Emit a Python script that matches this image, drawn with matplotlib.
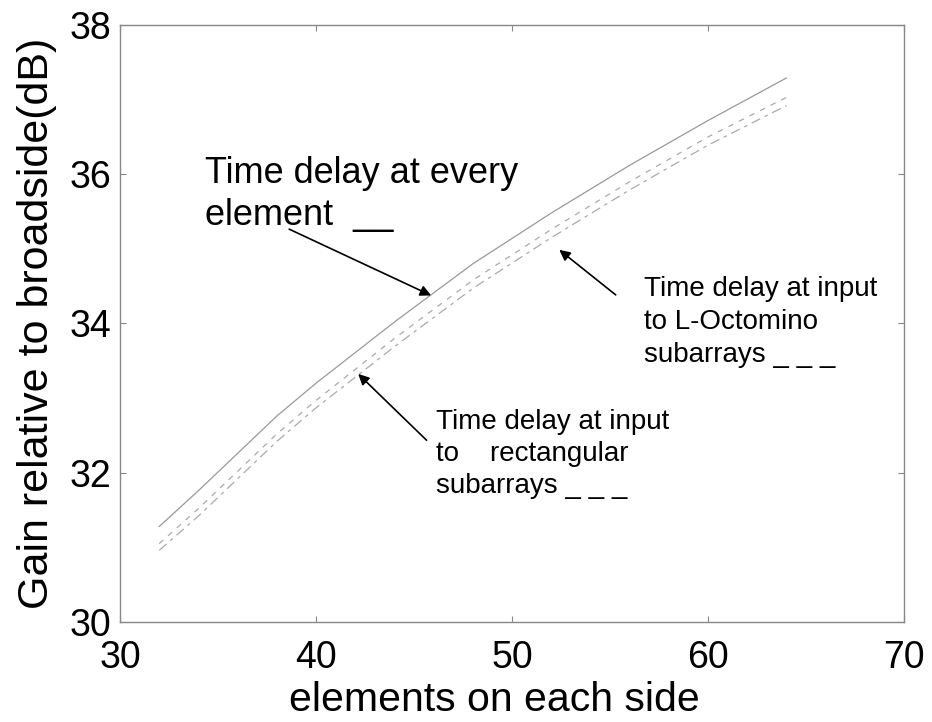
import matplotlib
matplotlib.use('Agg')
import matplotlib.pyplot as plt

plt.rcParams['font.family'] = ['Liberation Sans', 'DejaVu Sans']
plt.rcParams['lines.scale_dashes'] = False

######data###########################################################

elements = [32, 34, 36, 38, 40, 44, 48, 52, 56, 60, 64]
gain_every = [31.28, 31.76, 32.26, 32.76, 33.20, 34.02, 34.80, 35.48, 36.12, 36.72, 37.29]
gain_octomino = [31.05, 31.52, 32.02, 32.52, 32.97, 33.80, 34.58, 35.26, 35.90, 36.50, 37.03]
gain_rect = [30.96, 31.42, 31.92, 32.42, 32.87, 33.69, 34.47, 35.15, 35.79, 36.39, 36.92]

xticks = [30, 40, 50, 60, 70]
yticks = [30, 32, 34, 36, 38]

######plot###########################################################

fig = plt.figure(figsize=(9.32, 7.22), dpi=100)
ax = fig.add_axes([0.1288, 0.1385, 0.8412, 0.8269])

ax.plot(elements, gain_every, color='#999999', lw=0.9)
ax.plot(elements, gain_octomino, color='#aaaaaa', lw=0.9, linestyle=(0, (4, 4.5)))
ax.plot(elements, gain_rect, color='#aaaaaa', lw=0.9, linestyle=(0, (7, 3.5, 2.5, 3.5)))

ax.set_xlim(30, 70)
ax.set_ylim(30, 38)
ax.set_xticks(xticks)
ax.set_yticks(yticks)
ax.tick_params(direction='in', length=4, width=0.8, color='#888888',
               top=True, right=True, labelsize=27)
ax.tick_params(axis='x', pad=13)
ax.tick_params(axis='y', pad=6)
for s in ax.spines.values():
    s.set_color('#888888')
    s.set_linewidth(1.0)

ax.set_xlabel('elements on each side', fontsize=29.5)
ax.xaxis.set_label_coords(0.477, -0.098)
ax.set_ylabel('Gain relative to broadside(dB)', fontsize=31, labelpad=9)

arrow = dict(arrowstyle='-|>', color='black', lw=1.2, mutation_scale=16)

# va='baseline' sits on the last line here
ax.text(34.36, 35.32, 'Time delay at every\nelement  __', fontsize=26,
        va='baseline', ha='left', linespacing=1.25)
ax.annotate('', xy=(46.0, 34.36), xytext=(38.5, 35.28), arrowprops=arrow)

ax.text(56.75, 33.49, 'Time delay at input\nto L-Octomino\nsubarrays _ _ _', fontsize=20,
        va='baseline', ha='left', linespacing=1.35)
ax.annotate('', xy=(52.3, 35.01), xytext=(55.4, 34.36), arrowprops=arrow)

ax.text(46.1, 31.73, 'Time delay at input\nto    rectangular\nsubarrays _ _ _', fontsize=20,
        va='baseline', ha='left', linespacing=1.3)
ax.annotate('', xy=(42.05, 33.35), xytext=(45.74, 32.41), arrowprops=arrow)

plt.savefig('out.png', dpi=100)
